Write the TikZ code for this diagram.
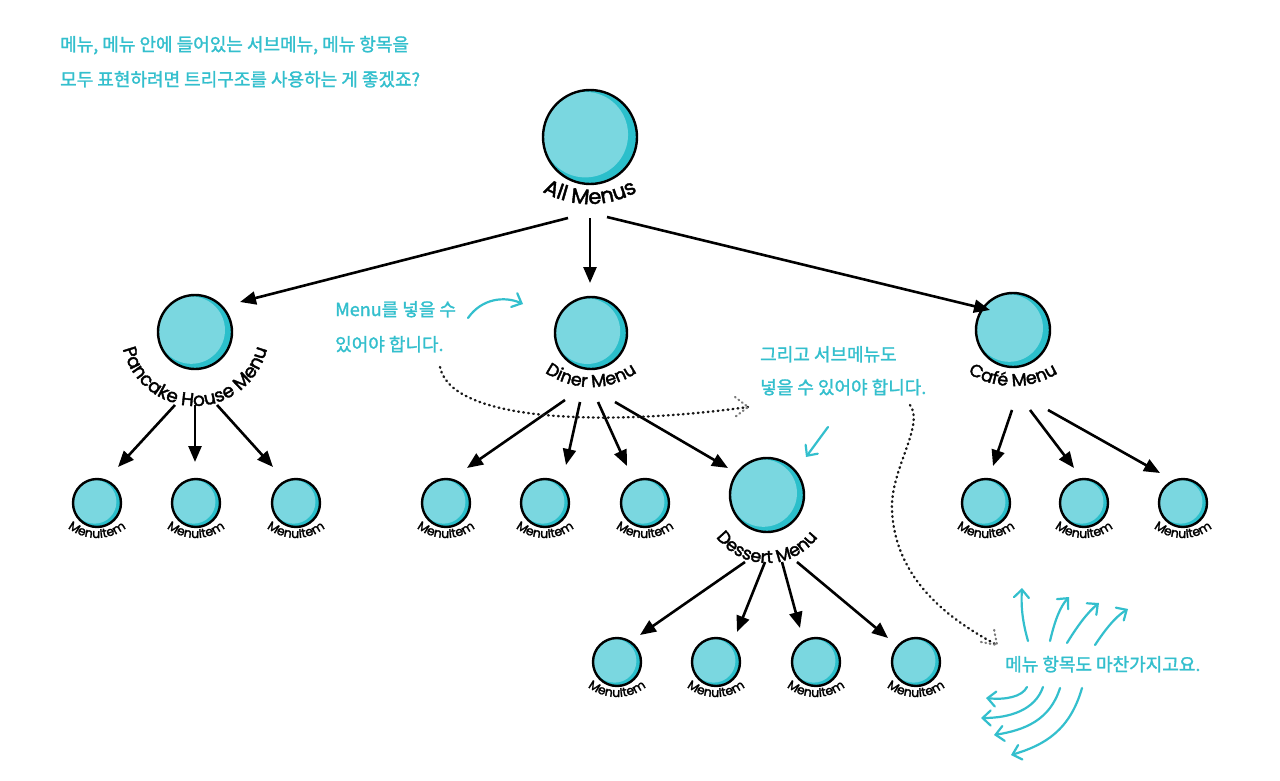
\documentclass[tikz,border=0pt]{standalone}
\usepackage{fontspec}
\setmainfont{Poppins}
\newfontfamily\lblf{Poppins}[FakeBold=2]
\newfontfamily\kr{Noto Sans CJK KR}[FakeBold=1.5]
\usetikzlibrary{arrows.meta,decorations.text,calc}
\definecolor{tealtxt}{HTML}{33BFCD}
\definecolor{circlight}{HTML}{7AD7E0}
\definecolor{circdark}{HTML}{2BBFCB}
\definecolor{dotgray}{HTML}{7A7A7A}
\tikzset{
  menucirc/.style={circle, draw=black, line width=2.4pt, fill=circdark, inner sep=0pt,
    minimum size=#1,
    path picture={\fill[circlight] ([xshift=-0.05*#1, yshift=0.025*#1]path picture bounding box.center) circle (0.455*#1);}},
  conn/.style={line width=2.6pt, -{Triangle[length=16pt,width=13pt]}},
  kannot/.style={font=\kr\fontsize{18}{22}\selectfont, text=tealtxt, inner sep=0pt, anchor=base west},
  tarrow/.style={draw=tealtxt, line width=2.2pt, line cap=round, -{Straight Barb[length=8pt,width=15pt,line cap=round]}},
  dotline/.style={line width=2.4pt, dash pattern=on 0.8pt off 4.2pt, line cap=round, draw=black!90},
  dotchev/.style={line width=2.2pt, dash pattern=on 0.8pt off 3.6pt, line cap=round, draw=dotgray},
  arclbl/.style={decorate, decoration={text along path, text align=center, text={#1}}}
}
\begin{document}
\begin{tikzpicture}[x=1pt,y=1pt]
\useasboundingbox (0,0) rectangle (1280,-781);
\fill[white] (0,0) rectangle (1280,-781);

% ---- circles
\node[menucirc=94pt] (all) at (590,-137) {};
\node[menucirc=74pt] (pan) at (195,-332) {};
\node[menucirc=72pt] (din) at (591,-333) {};
\node[menucirc=74pt] (cafe) at (1013,-330) {};
\node[menucirc=74pt] (des) at (767,-495) {};
\foreach \n/\x/\y in {p1/97/503, p2/196/503, p3/296/503,
                      d1/446/503, d2/545/503, d3/645/503,
                      c1/986/503, c2/1084/503, c3/1183/503,
                      e1/617/662, e2/716/662, e3/816/662, e4/916/662}{
  \node[menucirc=48pt] (\n) at (\x,-\y) {};
}

% ---- curved labels
\path[arclbl={|\lblf\fontsize{21}{24}\selectfont|All Menus}]
  ($(all.center)+(0,30)+(200:97)$) arc[start angle=200, end angle=340, radius=97];
\path[arclbl={|\lblf\fontsize{18.5}{22}\selectfont|Pancake House Menu}]
  ($(pan.center)+(140:74)$) arc[start angle=140, end angle=400, radius=74];
\path[arclbl={|\lblf\fontsize{17.5}{21}\selectfont|Diner Menu}]
  ($(din.center)+(0,26)+(200:80)$) arc[start angle=200, end angle=340, radius=80];
\path[arclbl={|\lblf\fontsize{17.5}{21}\selectfont|Café Menu}]
  ($(cafe.center)+(0,29)+(200:85)$) arc[start angle=200, end angle=340, radius=85];
\path[arclbl={|\lblf\fontsize{17.5}{21}\selectfont|Dessert Menu}]
  ($(des.center)+(0,-5)+(150:63)$) arc[start angle=150, end angle=390, radius=63];
\foreach \n in {p1,p2,p3,d1,d2,d3,c1,c2,c3,e1,e2,e3,e4}{
  \path[arclbl={|\lblf\fontsize{12.5}{15}\selectfont|MenuItem}]
    ($(\n.center)+(0,12)+(170:47)$) arc[start angle=170, end angle=370, radius=47];
}

% ---- connectors
\draw[conn] ([shift={(-22,-81)}]all.center) -- ([shift={(45,30)}]pan.center);
\draw[conn] ([shift={(0,-81)}]all.center) -- ([shift={(-1,50)}]din.center);
\draw[conn] ([shift={(17,-80)}]all.center) -- ([shift={(-23,20)}]cafe.center);

\draw[conn] ([shift={(-20,-73)}]pan.center) -- ([shift={(21,36)}]p1.center);
\draw[conn] ([shift={(0,-73)}]pan.center) -- ([shift={(-1,41)}]p2.center);
\draw[conn] ([shift={(22,-73)}]pan.center) -- ([shift={(-23,36)}]p3.center);

\draw[conn] ([shift={(-26,-67)}]din.center) -- ([shift={(21,35)}]d1.center);
\draw[conn] ([shift={(-11,-69)}]din.center) -- ([shift={(21,38)}]d2.center);
\draw[conn] ([shift={(7,-69)}]din.center) -- ([shift={(-18,37)}]d3.center);
\draw[conn] ([shift={(24,-69)}]din.center) -- ([shift={(-39,27)}]des.center);

\draw[conn] ([shift={(-1,-80)}]cafe.center) -- ([shift={(7,37)}]c1.center);
\draw[conn] ([shift={(17,-80)}]cafe.center) -- ([shift={(-10,35)}]c2.center);
\draw[conn] ([shift={(35,-80)}]cafe.center) -- ([shift={(-23,30)}]c3.center);

\draw[conn] ([shift={(-22,-67)}]des.center) -- ([shift={(23,27)}]e1.center);
\draw[conn] ([shift={(-2,-67)}]des.center) -- ([shift={(21,30)}]e2.center);
\draw[conn] ([shift={(15,-67)}]des.center) -- ([shift={(-16,34)}]e3.center);
\draw[conn] ([shift={(30,-67)}]des.center) -- ([shift={(-28,24)}]e4.center);

% ---- annotations (text)
\node[kannot] (t1a) at (60,-51) {메뉴, 메뉴 안에 들어있는 서브메뉴, 메뉴 항목을};
\node[kannot] (t1b) at (60,-86) {모두 표현하려면 트리구조를 사용하는 게 좋겠죠?};
\node[kannot] (t2a) at (335,-316) {Menu를 넣을 수};
\node[kannot] (t2b) at (335,-351) {있어야 합니다.};
\node[kannot] (t3a) at (760,-361) {그리고 서브메뉴도};
\node[kannot] (t3b) at (760,-394) {넣을 수 있어야 합니다.};
\node[kannot] (t4) at (1005,-671) {메뉴 항목도 마찬가지고요.};

% ---- teal hand arrows
\draw[tarrow] (468,-318) .. controls (482,-298) and (505,-296) .. (523,-304);
\draw[tarrow] (828,-427) -- (806,-457);
\draw[tarrow] (1028,-641) .. controls (1022,-620) and (1021,-605) .. (1022,-588);
\draw[tarrow] (1050,-641) .. controls (1055,-620) and (1060,-607) .. (1069,-597);
\draw[tarrow] (1067,-643) .. controls (1078,-625) and (1088,-612) .. (1099,-603);
\draw[tarrow] (1095,-645) .. controls (1105,-630) and (1115,-617) .. (1128,-609);
\draw[tarrow] (1027,-687) .. controls (1022,-697) and (1005,-700) .. (986,-698);
\draw[tarrow] (1043,-687) .. controls (1035,-710) and (1010,-718) .. (981,-718);
\draw[tarrow] (1060,-688) .. controls (1050,-720) and (1025,-730) .. (994,-735);
\draw[tarrow] (1082,-688) .. controls (1070,-730) and (1045,-745) .. (1011,-755);

% ---- dotted annotation curves
\coordinate (dA1) at (440,-367);
\coordinate (dA2) at (748,-407);
\draw[dotline] (dA1) .. controls (452,-425) and (620,-425) .. (dA2);
\draw[dotchev] (735,-397) -- (dA2) -- (735,-417);
\coordinate (dB1) at (910,-405);
\coordinate (dB2) at (997,-645);
\draw[dotline] (dB1) .. controls (925,-425) and (890,-470) .. (892,-510)
  .. controls (895,-580) and (950,-620) .. (dB2);
\draw[dotchev] (981,-642) -- (dB2) -- (994,-629);
\end{tikzpicture}
\end{document}
